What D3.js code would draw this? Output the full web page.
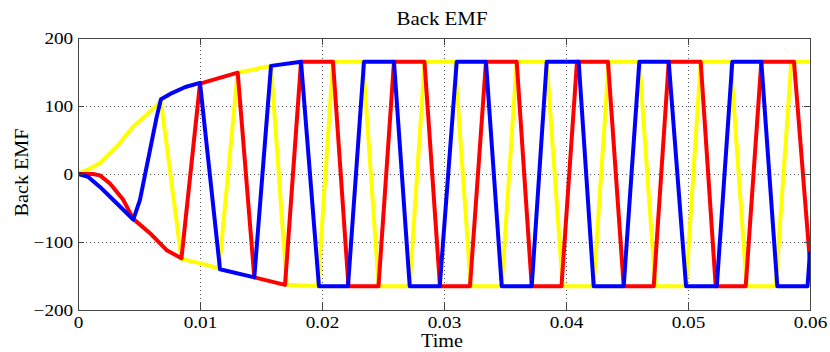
<!DOCTYPE html>
<html>
<head>
<meta charset="utf-8">
<script src="https://cdn.jsdelivr.net/npm/d3@7/dist/d3.min.js"></script>
<style>
  body { margin: 0; background: #fff; }
  text { font-family: "Liberation Serif", "Times New Roman", serif; fill: #000; }
</style>
</head>
<body>
<svg id="chart" width="830" height="352"></svg>
<script>
// phase A (red) - time in s, back emf
var redT = [0, 0.00123, 0.00180, 0.00262, 0.00371, 0.00453, 0.00590, 0.00727, 0.00848,
  0.01000, 0.01309, 0.01445, 0.01697, 0.01828, 0.02090, 0.02217, 0.02463, 0.02590,
  0.02840, 0.02967, 0.03213, 0.03344, 0.03596, 0.03719, 0.03963, 0.04090, 0.04344,
  0.04473, 0.04719, 0.04842, 0.05104, 0.05227, 0.05473, 0.05601, 0.05869, 0.06];
var redV = [0, 0, -2, -14, -38, -66, -87, -112, -124,
  133, 149, -152, -163, 165, 165, -165, -165, 165,
  165, -165, -165, 165, 165, -165, -165, 165, 165,
  -165, -165, 165, 165, -165, -165, 165, 165, -130];

// phase B (yellow)
var yellowT = [0, 0.00098, 0.00180, 0.00317, 0.00453, 0.00563, 0.00680, 0.00848, 0.01000,
  0.01156, 0.01309, 0.01582, 0.01711, 0.01967, 0.02090, 0.02336, 0.02465, 0.02719,
  0.02841, 0.03090, 0.03219, 0.03473, 0.03596, 0.03842, 0.03973, 0.04227, 0.04350,
  0.04601, 0.04732, 0.04984, 0.05104, 0.05350, 0.05481, 0.05719, 0.05847, 0.06];
var yellowV = [0, 8, 16, 40, 70, 87, 107, -125, -131,
  -139, 149, 159, -163, -165, 165, 165, -165, -165,
  165, 165, -165, -165, 165, 165, -165, -165, 165,
  165, -165, -165, 165, 165, -165, -165, 165, 165];

// phase C (blue)
var blueT = [0, 0.00082, 0.00180, 0.00317, 0.00453, 0.00508, 0.00590, 0.00645, 0.00680,
  0.00770, 0.00880, 0.01000, 0.01164, 0.01445, 0.01582, 0.01828, 0.01975, 0.02213,
  0.02344, 0.02590, 0.02719, 0.02965, 0.03104, 0.03344, 0.03473, 0.03719, 0.03842,
  0.04104, 0.04227, 0.04473, 0.04601, 0.04842, 0.04984, 0.05236, 0.05363, 0.05601,
  0.05732, 0.05980, 0.06];
var blueV = [0, -4, -19, -43, -67, -38, 35, 84, 110,
  119, 128, 134, -140, -152, 159, 165, -165, -165,
  165, 165, -165, -165, 165, 165, -165, -165, 165,
  165, -165, -165, 165, 165, -165, -165, 165, 165,
  -165, -165, -114];

var xTicks = [0, 0.01, 0.02, 0.03, 0.04, 0.05, 0.06];
var xTickLabels = ["0", "0.01", "0.02", "0.03", "0.04", "0.05", "0.06"];
var yTicks = [-200, -100, 0, 100, 200];

var titleText = "Back EMF",
    xLabel = "Time",
    yLabel = "Back EMF";

var plotLeft = 78, plotRight = 810, plotTop = 38, plotBottom = 310;

var svg = d3.select("#chart");

var x = d3.scaleLinear().domain([0, 0.06]).range([plotLeft, plotRight]);
var y = d3.scaleLinear().domain([-200, 200]).range([plotBottom, plotTop]);

svg.append("rect")
    .attr("width", 830).attr("height", 352)
    .attr("fill", "#fff");

// grid
var grid = svg.append("g")
    .attr("stroke", "#555")
    .attr("stroke-width", 1)
    .attr("stroke-dasharray", "1,3");

grid.selectAll("line.gx")
    .data(xTicks.slice(1, -1))
    .enter().append("line")
    .attr("x1", function(d) { return Math.round(x(d)) + 0.5; })
    .attr("x2", function(d) { return Math.round(x(d)) + 0.5; })
    .attr("y1", plotTop).attr("y2", plotBottom);

grid.selectAll("line.gy")
    .data(yTicks.slice(1, -1))
    .enter().append("line")
    .attr("y1", function(d) { return Math.round(y(d)) + 0.5; })
    .attr("y2", function(d) { return Math.round(y(d)) + 0.5; })
    .attr("x1", plotLeft).attr("x2", plotRight);

// curves
svg.append("clipPath").attr("id", "clip")
    .append("rect")
    .attr("x", plotLeft).attr("y", plotTop)
    .attr("width", plotRight - plotLeft).attr("height", plotBottom - plotTop);

var line = d3.line()
    .x(function(d) { return x(d[0]); })
    .y(function(d) { return y(d[1]); });

var series = [
    { t: yellowT, v: yellowV, color: "#ffff00" },
    { t: redT, v: redV, color: "#ff0000" },
    { t: blueT, v: blueV, color: "#0000ff" }
];

svg.append("g")
    .attr("clip-path", "url(#clip)")
    .selectAll("path")
    .data(series)
    .enter().append("path")
    .attr("d", function(s) { return line(d3.zip(s.t, s.v)); })
    .attr("fill", "none")
    .attr("stroke", function(s) { return s.color; })
    .attr("stroke-width", 4)
    .attr("stroke-linejoin", "round");

// axes
var xAxis = d3.axisBottom(x)
    .tickValues(xTicks)
    .tickSize(-7)
    .tickPadding(7)
    .tickFormat(function(d, i) { return xTickLabels[i]; });

var yAxis = d3.axisLeft(y)
    .tickValues(yTicks)
    .tickSize(-6)
    .tickPadding(4);

// the source figure has its text stretched sideways a little
function styleAxis(g) {
    g.select(".domain").remove();
    g.selectAll(".tick line").attr("stroke", "#444");
    g.selectAll("text")
        .attr("fill", "#000")
        .attr("transform", "scale(1.2,1)")
        .style("font-family", '"Liberation Serif", serif')
        .style("font-size", "16px");
}

svg.append("g")
    .attr("transform", "translate(0," + plotBottom + ")")
    .call(xAxis).call(styleAxis);

svg.append("g")
    .attr("transform", "translate(" + plotLeft + ",0)")
    .call(yAxis).call(styleAxis);

svg.append("g")
    .attr("transform", "translate(0," + plotTop + ")")
    .call(d3.axisTop(x).tickValues(xTicks).tickSize(-7).tickFormat(""))
    .call(styleAxis);

svg.append("g")
    .attr("transform", "translate(" + plotRight + ",0)")
    .call(d3.axisRight(y).tickValues(yTicks).tickSize(-6).tickFormat(""))
    .call(styleAxis);

// box
svg.append("rect")
    .attr("x", plotLeft + 0.5).attr("y", plotTop + 0.5)
    .attr("width", plotRight - plotLeft).attr("height", plotBottom - plotTop)
    .attr("fill", "none")
    .attr("stroke", "#444")
    .attr("stroke-width", 1);

// labels
svg.append("text")
    .attr("transform", "translate(" + 442 + ",25) scale(1.16,1)")
    .attr("text-anchor", "middle")
    .style("font-size", "18px")
    .text(titleText);

svg.append("text")
    .attr("transform", "translate(" + 442 + ",346.5) scale(1.12,1)")
    .attr("text-anchor", "middle")
    .style("font-size", "18px")
    .text(xLabel);

svg.append("text")
    .attr("transform", "translate(28,172.5) rotate(-90) scale(1.12,1)")
    .attr("text-anchor", "middle")
    .style("font-size", "18px")
    .text(yLabel);
</script>
</body>
</html>
